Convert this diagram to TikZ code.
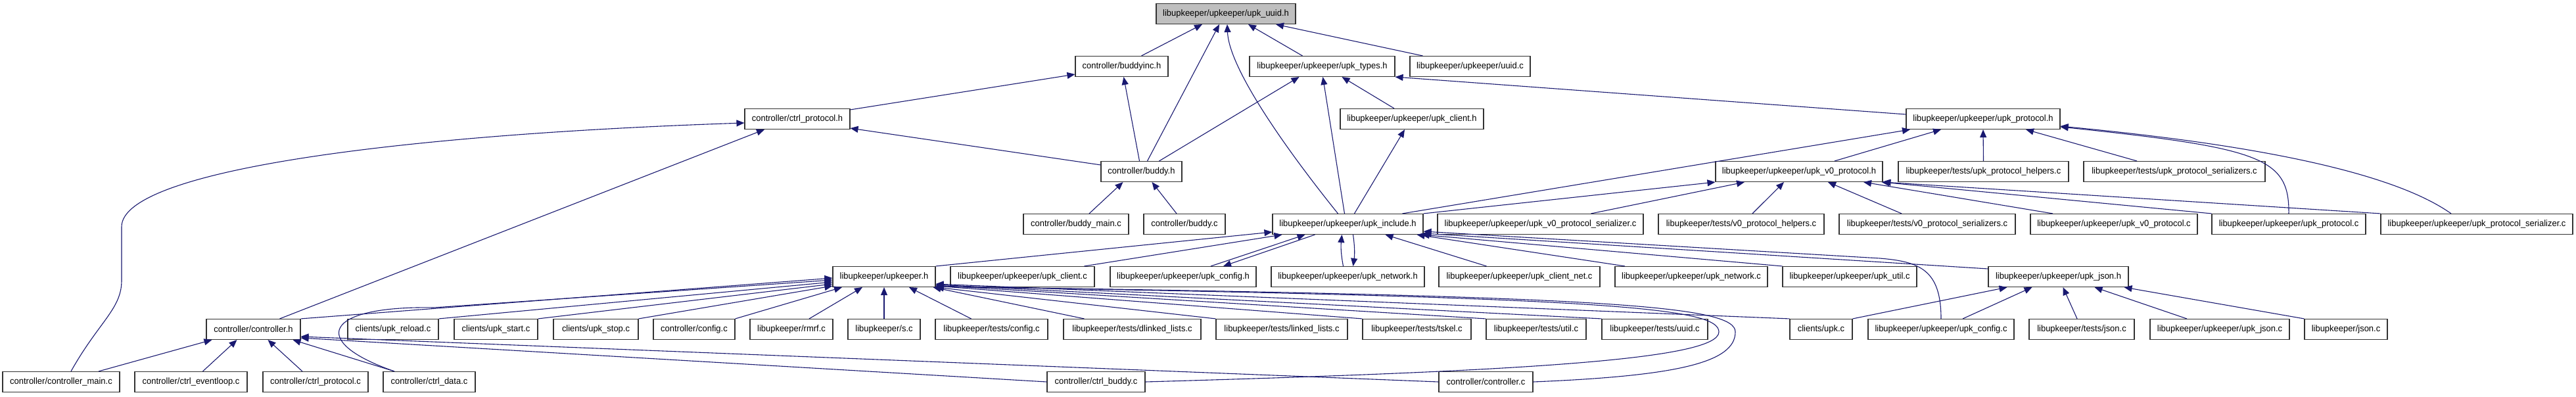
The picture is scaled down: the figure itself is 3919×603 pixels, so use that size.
\documentclass[tikz,border=0pt]{standalone}
\usepackage{fontspec}
\newfontfamily\doxfont[FakeStretch=0.96]{Liberation Sans}
\usetikzlibrary{arrows.meta}
\definecolor{dblue}{HTML}{191970}
\begin{document}
\begin{tikzpicture}[x=1pt,y=-1pt,
  box/.style={draw=black!80, line width=1.1pt, fill=white, minimum height=31pt, inner sep=0pt, font=\doxfont\fontsize{13.5}{15}\selectfont},
  arr/.style={draw=dblue, line width=1.1pt, -{Triangle[length=12pt,width=10pt,fill=dblue]}}]
\useasboundingbox (0,0) rectangle (3919,603);
% row 1
\node[box, minimum width=212pt, fill=black!25] (uuidh) at (1865,21) {libupkeeper/upkeeper/upk\_uuid.h};
% row 2
\node[box, minimum width=141pt] (buddyinc) at (1706.5,101) {controller/buddyinc.h};
\node[box, minimum width=221pt] (types) at (2011.5,101) {libupkeeper/upkeeper/upk\_types.h};
\node[box, minimum width=183pt] (uuidc) at (2236.5,101) {libupkeeper/upkeeper/uuid.c};
% row 3
\node[box, minimum width=160pt] (ctrlproth) at (1213,181) {controller/ctrl\_protocol.h};
\node[box, minimum width=218pt] (clienth) at (2148,181) {libupkeeper/upkeeper/upk\_client.h};
\node[box, minimum width=234pt] (protoh) at (3017,181) {libupkeeper/upkeeper/upk\_protocol.h};
% row 4
\node[box, minimum width=123pt] (buddyh) at (1736.5,261) {controller/buddy.h};
\node[box, minimum width=254pt] (v0h) at (2737,261) {libupkeeper/upkeeper/upk\_v0\_protocol.h};
\node[box, minimum width=259pt] (tph) at (3017.5,261) {libupkeeper/tests/upk\_protocol\_helpers.c};
\node[box, minimum width=276pt] (tps) at (3308,261) {libupkeeper/tests/upk\_protocol\_serializers.c};
% row 5
\node[box, minimum width=160pt] (buddymain) at (1637,341) {controller/buddy\_main.c};
\node[box, minimum width=124pt] (buddyc) at (1802,341) {controller/buddy.c};
\node[box, minimum width=229pt] (include) at (2050.5,341) {libupkeeper/upkeeper/upk\_include.h};
\node[box, minimum width=313pt] (v0ser) at (2343.5,341) {libupkeeper/upkeeper/upk\_v0\_protocol\_serializer.c};
\node[box, minimum width=252pt] (tv0h) at (2649,341) {libupkeeper/tests/v0\_protocol\_helpers.c};
\node[box, minimum width=268pt] (tv0s) at (2932,341) {libupkeeper/tests/v0\_protocol\_serializers.c};
\node[box, minimum width=254pt] (v0c) at (3216,341) {libupkeeper/upkeeper/upk\_v0\_protocol.c};
\node[box, minimum width=234pt] (protoc) at (3482,341) {libupkeeper/upkeeper/upk\_protocol.c};
\node[box, minimum width=292pt] (protoserc) at (3768,341) {libupkeeper/upkeeper/upk\_protocol\_serializer.c};
% row 6
\node[box, minimum width=156pt] (upkh) at (1345,421) {libupkeeper/upkeeper.h};
\node[box, minimum width=219pt] (clientc) at (1555.5,421) {libupkeeper/upkeeper/upk\_client.c};
\node[box, minimum width=222pt] (configh) at (1800,421) {libupkeeper/upkeeper/upk\_config.h};
\node[box, minimum width=233pt] (neth) at (2050.5,421) {libupkeeper/upkeeper/upk\_network.h};
\node[box, minimum width=245pt] (clientnet) at (2311.5,421) {libupkeeper/upkeeper/upk\_client\_net.c};
\node[box, minimum width=232pt] (netc) at (2573,421) {libupkeeper/upkeeper/upk\_network.c};
\node[box, minimum width=204pt] (utilc) at (2814,421) {libupkeeper/upkeeper/upk\_util.c};
\node[box, minimum width=213pt] (jsonh) at (3131.5,421) {libupkeeper/upkeeper/upk\_json.h};
% row 7
\node[box, minimum width=143pt] (controllerh) at (385.5,501) {controller/controller.h};
\node[box, minimum width=138pt] (reload) at (598,501) {clients/upk\_reload.c};
\node[box, minimum width=127pt] (start) at (754.5,501) {clients/upk\_start.c};
\node[box, minimum width=129pt] (stop) at (906.5,501) {clients/upk\_stop.c};
\node[box, minimum width=124pt] (cconfig) at (1056,501) {controller/config.c};
\node[box, minimum width=126pt] (rmrf) at (1204,501) {libupkeeper/rmrf.c};
\node[box, minimum width=110pt] (sc) at (1345,501) {libupkeeper/s.c};
\node[box, minimum width=171pt] (tconfig) at (1508.5,501) {libupkeeper/tests/config.c};
\node[box, minimum width=209pt] (tdl) at (1722.5,501) {libupkeeper/tests/dlinked\_lists.c};
\node[box, minimum width=200pt] (tll) at (1950,501) {libupkeeper/tests/linked\_lists.c};
\node[box, minimum width=165pt] (tskel) at (2155.5,501) {libupkeeper/tests/tskel.c};
\node[box, minimum width=152pt] (tutil) at (2337,501) {libupkeeper/tests/util.c};
\node[box, minimum width=161pt] (tuuid) at (2517.5,501) {libupkeeper/tests/uuid.c};
\node[box, minimum width=95pt] (upkc) at (2770.5,501) {clients/upk.c};
\node[box, minimum width=222pt] (configc) at (2953,501) {libupkeeper/upkeeper/upk\_config.c};
\node[box, minimum width=160pt] (tjson) at (3167,501) {libupkeeper/tests/json.c};
\node[box, minimum width=212pt] (jsonc) at (3377,501) {libupkeeper/upkeeper/upk\_json.c};
\node[box, minimum width=126pt] (ljson) at (3569,501) {libupkeeper/json.c};
% row 8
\node[box, minimum width=178pt] (cmain) at (93,581) {controller/controller\_main.c};
\node[box, minimum width=171pt] (evl) at (290.5,581) {controller/ctrl\_eventloop.c};
\node[box, minimum width=160pt] (cprotc) at (480,581) {controller/ctrl\_protocol.c};
\node[box, minimum width=140pt] (cdata) at (653,581) {controller/ctrl\_data.c};
\node[box, minimum width=149pt] (cbuddy) at (1667.5,581) {controller/ctrl\_buddy.c};
\node[box, minimum width=143pt] (controllerc) at (2260.5,581) {controller/controller.c};

% edges to upk_uuid.h
\draw[arr] ([xshift=30pt]buddyinc.north) -- ([xshift=-36pt]uuidh.south);
\draw[arr] ([xshift=9pt]buddyh.north) -- ([xshift=-10pt]uuidh.south);
\draw[arr] ([xshift=-15pt]include.north) .. controls (1975,250) and (1870,110) .. ([xshift=2pt]uuidh.south);
\draw[arr] ([xshift=-30pt]types.north) -- ([xshift=34pt]uuidh.south);
\draw[arr] ([xshift=-72pt]uuidc.north) -- ([xshift=76pt]uuidh.south);
% buddyinc, ctrl_protocol.h
\draw[arr] ([xshift=-3pt]buddyh.north) -- ([xshift=3pt]buddyinc.south);
\draw[arr] ([yshift=-2pt]ctrlproth.north east) -- ([yshift=4pt]buddyinc.south west);
\draw[arr] ([yshift=-6pt]buddyh.north west) -- ([yshift=2pt]ctrlproth.south east);
\draw[arr] ([xshift=15pt]cmain.north) .. controls (150,490) and (185,470) .. (185,427) -- (185,345) .. controls (185,260) and (600,205) .. ([yshift=-6pt]ctrlproth.west);
\draw[arr] ([xshift=40pt]controllerh.north) -- ([xshift=-50pt]ctrlproth.south);
% upk_types.h
\draw[arr] ([xshift=27pt]buddyh.north) -- ([xshift=-35pt]types.south);
\draw[arr] ([xshift=-5pt]include.north) -- ([xshift=1pt]types.south);
\draw[arr] ([xshift=-27pt]clienth.north) -- ([xshift=30pt]types.south);
\draw[arr] ([yshift=7pt]protoh.west) -- (types.south east);
\draw[arr] ([xshift=10pt]include.north) -- ([xshift=-11pt]clienth.south);
% upk_protocol.h
\draw[arr] ([xshift=83pt]include.north) -- ([xshift=-111pt]protoh.south);
\draw[arr] ([xshift=54pt]v0h.north) -- ([xshift=-64pt]protoh.south);
\draw[arr] (tph.north) -- (protoh.south);
\draw[arr] ([xshift=-57pt]tps.north) -- ([xshift=65pt]protoh.south);
\draw[arr] (protoc.north) .. controls (3483,240) and (3440,225) .. ([yshift=-12pt]protoh.east);
\draw[arr] ([xshift=-39pt]protoserc.north) .. controls (3640,262) and (3430,220) .. ([yshift=-11pt]protoh.east);
% buddy.h
\draw[arr] ([xshift=20pt]buddymain.north) -- ([xshift=-28pt]buddyh.south);
\draw[arr] ([xshift=-12pt]buddyc.north) -- ([xshift=16pt]buddyh.south);
% upk_v0_protocol.h
\draw[arr] (include.north east) -- (v0h.south west);
\draw[arr] ([xshift=77pt]v0ser.north) -- ([xshift=-83pt]v0h.south);
\draw[arr] ([xshift=17pt]tv0h.north) -- ([xshift=-23pt]v0h.south);
\draw[arr] ([xshift=-39pt]tv0s.north) -- ([xshift=44pt]v0h.south);
\draw[arr] ([xshift=-93pt]v0c.north) -- ([xshift=98pt]v0h.south);
\draw[arr] (protoc.north west) -- ([xshift=-2pt]v0h.south east);
\draw[arr] (protoserc.north west) -- (v0h.south east);
% upk_include.h
\draw[arr] (upkh.north east) -- ([yshift=-12pt]include.west);
\draw[arr] ([xshift=94pt]clientc.north) -- ([xshift=-100pt]include.south);
\draw[arr] ([xshift=42pt]configh.north) -- ([xshift=-65pt]include.south);
\draw[arr] ([xshift=-50pt]include.south) -- ([xshift=61pt]configh.north);
\draw[arr] ([xshift=-7pt]neth.north) to[bend left=8] ([xshift=-9pt]include.south);
\draw[arr] ([xshift=8pt]include.south) to[bend left=8] ([xshift=8pt]neth.north);
\draw[arr] ([xshift=-50pt]clientnet.north) -- ([xshift=57pt]include.south);
\draw[arr] ([xshift=-101pt]netc.north) -- ([xshift=105pt]include.south);
\draw[arr] (utilc.north west) -- ([xshift=-3pt]include.south east);
\draw[arr] ([yshift=12pt]jsonh.west) -- ([yshift=2pt]include.south east);
\draw[arr] (configc.north) .. controls (2953,410) and (2920,398) .. (2860,393) -- ([yshift=5pt]include.south east);
% upk_json.h
\draw[arr] (upkc.north east) -- ([xshift=-78pt]jsonh.south);
\draw[arr] ([xshift=33pt]configc.north) -- ([xshift=-40pt]jsonh.south);
\draw[arr] ([xshift=-7pt]tjson.north) -- ([xshift=7pt]jsonh.south);
\draw[arr] ([xshift=-50pt]jsonc.north) -- ([xshift=55pt]jsonh.south);
\draw[arr] (ljson.north west) -- ([xshift=100pt]jsonh.south);
% upkeeper.h
\draw[arr] (controllerh.north east) -- ([yshift=-2pt]upkh.west);
\draw[arr] ([xshift=-53pt]cdata.north) .. controls (470,520) and (490,465) .. (660,468) -- ([yshift=-5pt]upkh.west);
\draw[arr] (reload.north east) -- ([yshift=-8pt]upkh.west);
\draw[arr] (start.north east) -- ([yshift=-11pt]upkh.west);
\draw[arr] (stop.north east) -- ([yshift=-14pt]upkh.west);
\draw[arr] (cconfig.north east) -- ([xshift=-64pt]upkh.south);
\draw[arr] ([xshift=27pt]rmrf.north) -- ([xshift=-33pt]upkh.south);
\draw[arr] (sc.north) -- (upkh.south);
\draw[arr] ([xshift=-31pt]tconfig.north) -- ([xshift=38pt]upkh.south);
\draw[arr] ([xshift=-73pt]tdl.north) -- ([xshift=-4pt]upkh.south east);
\draw[arr] (tll.north west) -- (upkh.south east);
\draw[arr] (tskel.north west) -- ([yshift=2pt]upkh.south east);
\draw[arr] (tutil.north west) -- ([yshift=3pt]upkh.south east);
\draw[arr] (tuuid.north west) -- ([yshift=4pt]upkh.south east);
\draw[arr] (upkc.north west) -- ([yshift=5pt]upkh.south east);
\draw[arr] (cbuddy.east) .. controls (2300,565) and (2615,548) .. (2615,505) .. controls (2615,468) and (2450,452) .. ([yshift=1pt]upkh.south east);
\draw[arr] (controllerc.east) .. controls (2550,572) and (2640,552) .. (2640,505) .. controls (2640,465) and (2450,450) .. ([yshift=1pt]upkh.south east);
% controller.h
\draw[arr] ([xshift=57pt]cmain.north) -- ([xshift=-63pt]controllerh.south);
\draw[arr] ([xshift=18pt]evl.north) -- ([xshift=-25pt]controllerh.south);
\draw[arr] ([xshift=-20pt]cprotc.north) -- ([xshift=22pt]controllerh.south);
\draw[arr] ([xshift=-53pt]cdata.north) -- ([xshift=60pt]controllerh.south);
\draw[arr] (cbuddy.west) -- ([yshift=3pt]controllerh.south east);
\draw[arr] (controllerc.west) -- ([yshift=5pt]controllerh.south east);
\end{tikzpicture}
\end{document}
